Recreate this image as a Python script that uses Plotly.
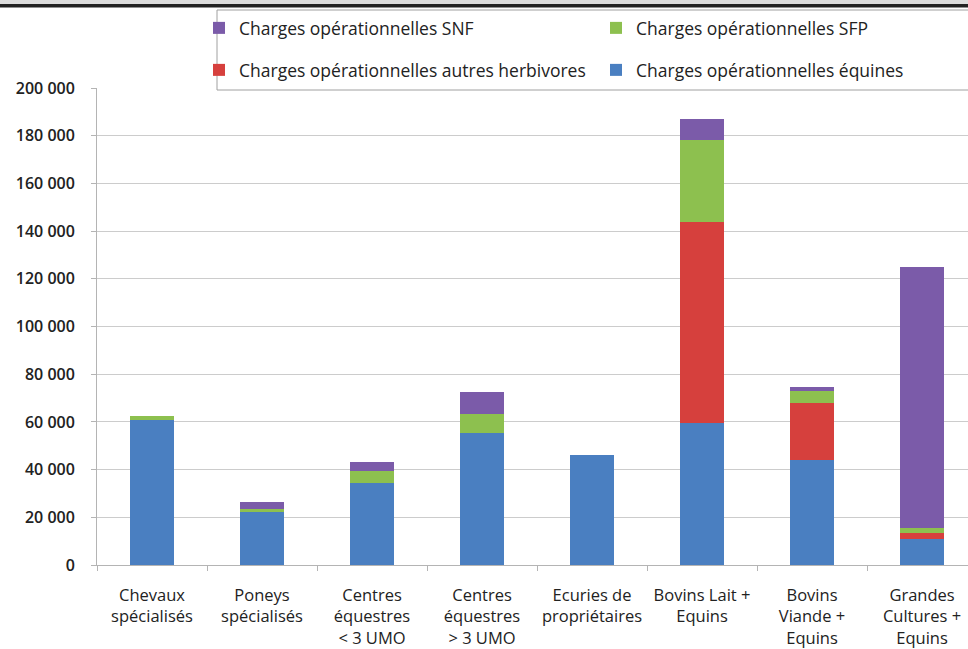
import plotly.graph_objects as go

categories = [
    "Chevaux<br>spécialisés",
    "Poneys<br>spécialisés",
    "Centres<br>équestres<br>&lt; 3 UMO",
    "Centres<br>équestres<br>&gt; 3 UMO",
    "Ecuries de<br>propriétaires",
    "Bovins Lait +<br>Equins",
    "Bovins<br>Viande +<br>Equins",
    "Grandes<br>Cultures +<br>Equins",
]
equines = [60800, 22300, 34500, 55500, 46200, 59700, 44000, 10800]
autres_herbivores = [0, 0, 0, 0, 0, 84000, 24000, 2500]
sfp = [1800, 1200, 4900, 7800, 0, 34500, 5000, 2100]
snf = [0, 3000, 3900, 9100, 0, 8800, 1700, 109400]

y_tickvals = [0, 20000, 40000, 60000, 80000, 100000, 120000, 140000, 160000, 180000, 200000]
y_ticktext = ["0", "20 000", "40 000", "60 000", "80 000", "100 000", "120 000",
              "140 000", "160 000", "180 000", "200 000"]

FONT = "Open Sans"
W, H = 968, 649
L, T, B = 97, 88, 84
PW = W - L
PH = H - T - B


def px_x(x):
    return (x - L) / PW


def px_y(y):
    return 1 + (T - y) / PH


fig = go.Figure()
fig.add_trace(go.Bar(x=categories, y=equines, name="Charges opérationnelles équines",
                     marker_color="#4a7fc1", width=0.4, legend="legend4"))
fig.add_trace(go.Bar(x=categories, y=autres_herbivores, name="Charges opérationnelles autres herbivores",
                     marker_color="#d6403d", width=0.4, legend="legend3"))
fig.add_trace(go.Bar(x=categories, y=sfp, name="Charges opérationnelles SFP",
                     marker_color="#8dc04f", width=0.4, legend="legend2"))
fig.add_trace(go.Bar(x=categories, y=snf, name="Charges opérationnelles SNF",
                     marker_color="#7b5ba9", width=0.4, legend="legend"))

for tr in fig.data:
    tr.marker.line.width = 0
    tr.showlegend = True


def leg(xp, yp):
    return dict(
        x=px_x(xp), y=px_y(yp),
        orientation="h", xanchor="left", yanchor="middle",
        font=dict(family=FONT, size=17.5, color="#222222"),
        bgcolor="rgba(0,0,0,0)", borderwidth=0, visible=True,
    )


fig.update_layout(
    width=W, height=H,
    margin=dict(l=L, r=0, t=T, b=B, pad=0, autoexpand=False),
    paper_bgcolor="white", plot_bgcolor="white",
    barmode="stack",
    showlegend=True,
    legend=leg(199, 28),
    legend2=leg(596, 28),
    legend3=leg(199, 70),
    legend4=leg(596, 70),
    xaxis=dict(
        range=[-0.5, 7.418],
        showgrid=False,
        showline=True, linecolor="#b4b4b4", linewidth=1,
        ticks="outside", tickson="boundaries", ticklen=5, tickcolor="#b4b4b4",
        tickfont=dict(family=FONT, size=16.5, color="#222222"),
        tickangle=0,
        ticklabelstandoff=15,
        automargin=False,
        fixedrange=True,
    ),
    yaxis=dict(
        range=[0, 200000],
        tickvals=y_tickvals, ticktext=y_ticktext,
        showgrid=True, gridcolor="#cccccc", gridwidth=1,
        showline=True, linecolor="#b4b4b4", linewidth=1,
        ticks="outside", ticklen=5, tickcolor="#b4b4b4",
        tickfont=dict(family=FONT + " SemiBold, " + FONT, size=16, color="#222222"),
        ticklabelstandoff=13,
        automargin=False,
        zeroline=False,
    ),
    shapes=[
        dict(type="rect", xref="paper", yref="paper",
             x0=px_x(-5), x1=px_x(975), y0=px_y(4), y1=px_y(-2),
             fillcolor="#dcdcdc", line=dict(width=0), layer="above"),
        dict(type="rect", xref="paper", yref="paper",
             x0=px_x(-5), x1=px_x(975), y0=px_y(7.5), y1=px_y(4),
             fillcolor="#222222", line=dict(width=0), layer="above"),
        dict(type="rect", xref="paper", yref="paper",
             x0=px_x(217), x1=px_x(990), y0=px_y(90), y1=px_y(10),
             fillcolor="white", line=dict(color="#a0a0a0", width=1), layer="above"),
    ],
)

fig.write_html("out.html", config={"displayModeBar": False},
               post_script="document.body.style.margin='0px';")
